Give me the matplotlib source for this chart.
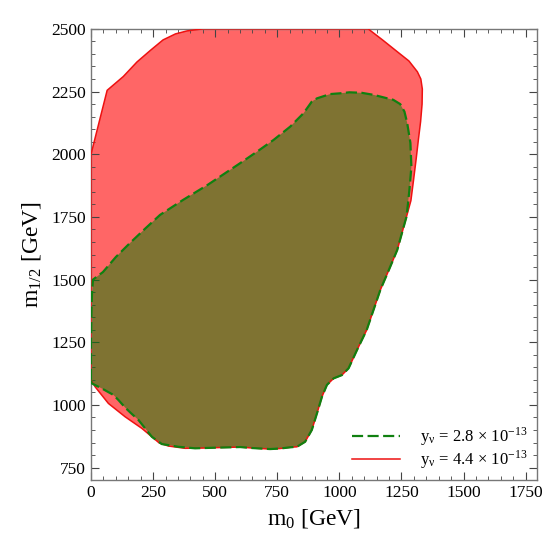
import matplotlib
matplotlib.use("Agg")
import matplotlib.pyplot as plt
from matplotlib.ticker import MultipleLocator

plt.rcParams['font.family'] = ['Liberation Serif', 'DejaVu Serif']
plt.rcParams['mathtext.fontset'] = 'stix'

# Shared right/bottom boundary of both regions
common_x = [1270, 1233, 1200, 1165, 1110, 1071, 1037, 1010, 977, 950, 930, 910, 889, 862, 829, 802, 760, 721, 650, 600, 520, 451]
common_y = [1750, 1618, 1540, 1459, 1299, 1219, 1146, 1119, 1106, 1080, 1033, 967, 900, 853, 833, 831, 826, 824, 828, 832, 830, 828]

# y_nu = 4.4e-13 region (red)
red_top_x = [0, 0, 65, 130, 185, 240, 290, 340, 387, 450, 600, 800, 1000, 1116, 1175, 1233, 1280, 1314, 1328, 1334, 1333, 1327, 1318, 1309, 1299, 1288]
red_top_y = [1100, 2000, 2255, 2310, 2368, 2415, 2456, 2480, 2492, 2500, 2500, 2500, 2500, 2500, 2455, 2409, 2372, 2329, 2300, 2260, 2200, 2130, 2057, 1980, 1900, 1815]
red_ll_x = [379, 312, 275, 245, 204, 137, 70, 16]
red_ll_y = [827, 836, 848, 873, 907, 953, 1006, 1073]

# y_nu = 2.8e-13 region (green)
grn_top_x = [0, 0, 2, 4, 8, 48, 100, 157, 220, 278, 371, 470, 600, 668, 735, 802, 856, 889, 910, 963, 1003, 1040, 1090, 1137, 1217, 1245, 1262, 1273, 1286, 1290, 1282, 1276]
grn_top_y = [1100, 1250, 1380, 1447, 1500, 1530, 1590, 1646, 1705, 1758, 1818, 1878, 1964, 2010, 2057, 2110, 2164, 2210, 2223, 2240, 2243, 2247, 2245, 2237, 2217, 2200, 2170, 2125, 2045, 1950, 1858, 1800]
grn_ll_x = [419, 352, 285, 245, 191, 160, 137, 110, 90, 43, 3]
grn_ll_y = [827, 833, 844, 873, 940, 968, 990, 1020, 1040, 1066, 1086]

red_x = red_top_x + common_x + red_ll_x + [0]
red_y = red_top_y + common_y + red_ll_y + [1100]
grn_x = grn_top_x + common_x + grn_ll_x + [0]
grn_y = grn_top_y + common_y + grn_ll_y + [1100]

labels = [r'y$_{\mathregular{\nu}}$ = 2.8 × 10$^{\mathregular{-13}}$',
          r'y$_{\mathregular{\nu}}$ = 4.4 × 10$^{\mathregular{-13}}$']

fig = plt.figure(figsize=(5.45, 5.45), dpi=100)
ax = fig.add_axes([0.167, 0.119, 0.818, 0.828])

ax.fill(red_x, red_y, color=(1, 0, 0), alpha=0.6, lw=0, zorder=1)
ax.fill(grn_x, grn_y, color=(0, 0.5, 0), alpha=0.5, lw=0, zorder=2)
l_red, = ax.plot(red_x, red_y, color='#ee1111', lw=1.1, zorder=3)
l_grn, = ax.plot(grn_x, grn_y, color='#108010', lw=1.6, dashes=(5, 2), zorder=4)

ax.set_xlim(0, 1795)
ax.set_ylim(700, 2500)
ax.xaxis.set_major_locator(MultipleLocator(250))
ax.xaxis.set_minor_locator(MultipleLocator(50))
ax.yaxis.set_major_locator(MultipleLocator(250))
ax.yaxis.set_minor_locator(MultipleLocator(50))
ax.tick_params(which='both', direction='in', top=True, right=True, labelsize=12.5, color='#444444')
ax.tick_params(which='major', length=6)
ax.tick_params(which='minor', length=3)
for s in ax.spines.values():
    s.set_color('#777777')
    s.set_linewidth(1.0)

ax.set_xlabel(r'$\mathregular{m_0}$ [GeV]', fontsize=17, labelpad=4)
ax.set_ylabel(r'$\mathregular{m_{1/2}}$ [GeV]', fontsize=17, labelpad=6)

ax.legend([l_grn, l_red], labels, loc='lower right', frameon=False, fontsize=12,
          handlelength=2.9, handletextpad=1.2, labelspacing=0.0, borderaxespad=0.15)

fig.savefig('out.png', dpi=100)
